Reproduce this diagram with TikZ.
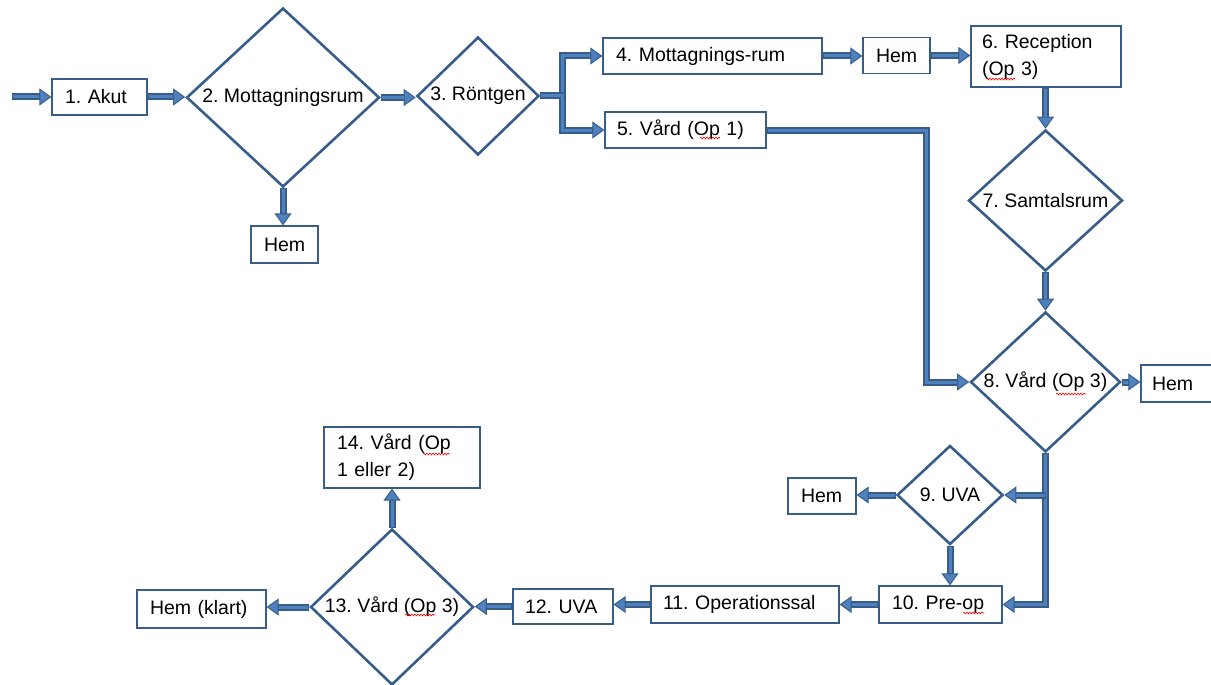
\documentclass[tikz,border=0pt]{standalone}
\usepackage{fontspec}
\setmainfont{Liberation Sans}
\frenchspacing
\usetikzlibrary{arrows.meta,shapes.geometric,decorations.pathmorphing,calc}
\definecolor{cOut}{RGB}{56,93,138}
\definecolor{cIn}{RGB}{79,129,189}
\begin{document}
\begin{tikzpicture}[x=1pt,y=-1pt,
  lab/.style={font=\fontsize{19.5}{27}\selectfont, inner sep=0pt},
  bx/.style={draw=cOut, line width=1.3pt, fill=white, rectangle, inner xsep=13pt, inner ysep=0pt, align=left, font=\fontsize{19.5}{27}\selectfont},
  dia/.style={draw=cOut, line width=2.6pt, fill=white, diamond, inner sep=0pt},
  conn/.style={draw=cOut, line width=7pt, line join=miter, -{Triangle[length=12pt,width=17pt,line width=1pt,fill=cIn]}, postaction={draw=cIn, line width=3pt, shorten >=12pt, shorten <=1pt, -}},
  squig/.style={draw=red, line width=0.6pt, decorate, decoration={snake, amplitude=0.9pt, segment length=3pt}}
]
\useasboundingbox (0,0) rectangle (1211,685);

% boxes
\node[bx, minimum height=36pt, text width=69pt] (b1) at (99.5,97) {1. Akut};
\node[bx, minimum height=37pt, text width=41pt] (hem2) at (284.5,244.5) {Hem};
\node[bx, minimum height=36pt, text width=193pt] (b4) at (712.5,56) {4. Mottagnings-rum};
\node[bx, minimum height=36pt, text width=137pt, inner xsep=12pt] (b5) at (685.5,130) {5. Vård (Op 1)};
\node[bx, minimum height=36pt, text width=41pt] (hem4) at (896.5,55.5) {Hem};
\node[bx, minimum height=61pt, text width=128pt, inner xsep=11pt] (b6) at (1046,56.5) {6. Reception\\(Op 3)};
\node[bx, minimum height=37pt, text width=58pt, inner xsep=11pt] (hem8) at (1181,383.5) {Hem};
\node[bx, minimum height=36pt, text width=42pt] (hem9) at (822,496) {Hem};
\node[bx, minimum height=37pt, text width=97pt] (b10) at (940.5,604.5) {10. Pre-op};
\node[bx, minimum height=37pt, text width=164pt, inner xsep=12pt] (b11) at (745,604.5) {11. Operationssal};
\node[bx, minimum height=35pt, text width=76pt, inner xsep=12pt] (b12) at (563,606.5) {12. UVA};
\node[bx, minimum height=38pt, text width=103pt] (hemk) at (201.5,609) {Hem (klart)};
\node[bx, minimum height=61pt, text width=130pt] (b14) at (402,457.5) {14. Vård (Op\\1 eller 2)};

% diamonds
\node[dia, minimum width=193pt, minimum height=179pt, label={[lab]center:2. Mottagningsrum}] (d2) at (283,97.5) {};
\node[dia, minimum width=122pt, minimum height=118pt, label={[lab]center:3. Röntgen}] (d3) at (478,96) {};
\node[dia, minimum width=154pt, minimum height=141pt, label={[lab]center:7. Samtalsrum}] (d7) at (1045.5,200.5) {};
\node[dia, minimum width=150pt, minimum height=140pt, label={[lab]center:8. Vård (Op 3)}] (d8) at (1045.5,382) {};
\node[dia, minimum width=106pt, minimum height=99pt, label={[lab]center:9. UVA}] (d9) at (950,495) {};
\node[dia, minimum width=163pt, minimum height=156pt, label={[lab]center:13. Vård (Op 3)}] (d13) at (392,607) {};

% helper coordinates
\coordinate (s0) at (12,97);
\coordinate (j3) at (562,96);
\coordinate (k5) at (926,250);
\coordinate (j8) at (1045.5,495);

% connectors
\draw[conn] (s0) -- (s0 -| b1.west);
\draw[conn] (b1.east) -- (b1.east -| d2.west);
\draw[conn] (d2.east) -- (d2.east -| d3.west);
\draw[conn] (d2.south) -- (d2.south |- hem2.north);
\draw[conn] (d3.east) -- (j3) |- (b4.west);
\draw[conn] (d3.east) -- (j3) |- (b5.west);
\draw[conn] (b4.east) -- (b4.east -| hem4.west);
\draw[conn] (hem4.east) -- (hem4.east -| b6.west);
\draw[conn] (b6.south -| d7.north) -- (d7.north);
\draw[conn] (d7.south) -- (d8.north);
\draw[conn] (b5.east) -| (k5) |- (d8.west);
\draw[conn] (d8.east) -- (d8.east -| hem8.west);
\draw[conn] (d8.south) |- (b10.east);
\draw[conn] (j8) -- (d9.east);
\draw[conn] (d9.west) -- (d9.west -| hem9.east);
\draw[conn] (d9.south) -- (d9.south |- b10.north);
\draw[conn] (b10.west) -- (b10.west -| b11.east);
\draw[conn] (b11.west) -- (b11.west -| b12.east);
\draw[conn] (b12.west) -- (b12.west -| d13.east);
\draw[conn] (d13.west) -- (d13.west -| hemk.east);
\draw[conn] (d13.north) -- (d13.north |- b14.south);

% spell-check squiggles
\draw[squig] (700,138) -- (720,138);
\draw[squig] (986,79) -- (1015,79);
\draw[squig] (1056,394) -- (1086,394);
\draw[squig] (963,613) -- (984,613);
\draw[squig] (405,615) -- (435,615);
\draw[squig] (423,454) -- (450,454);
\end{tikzpicture}
\end{document}
